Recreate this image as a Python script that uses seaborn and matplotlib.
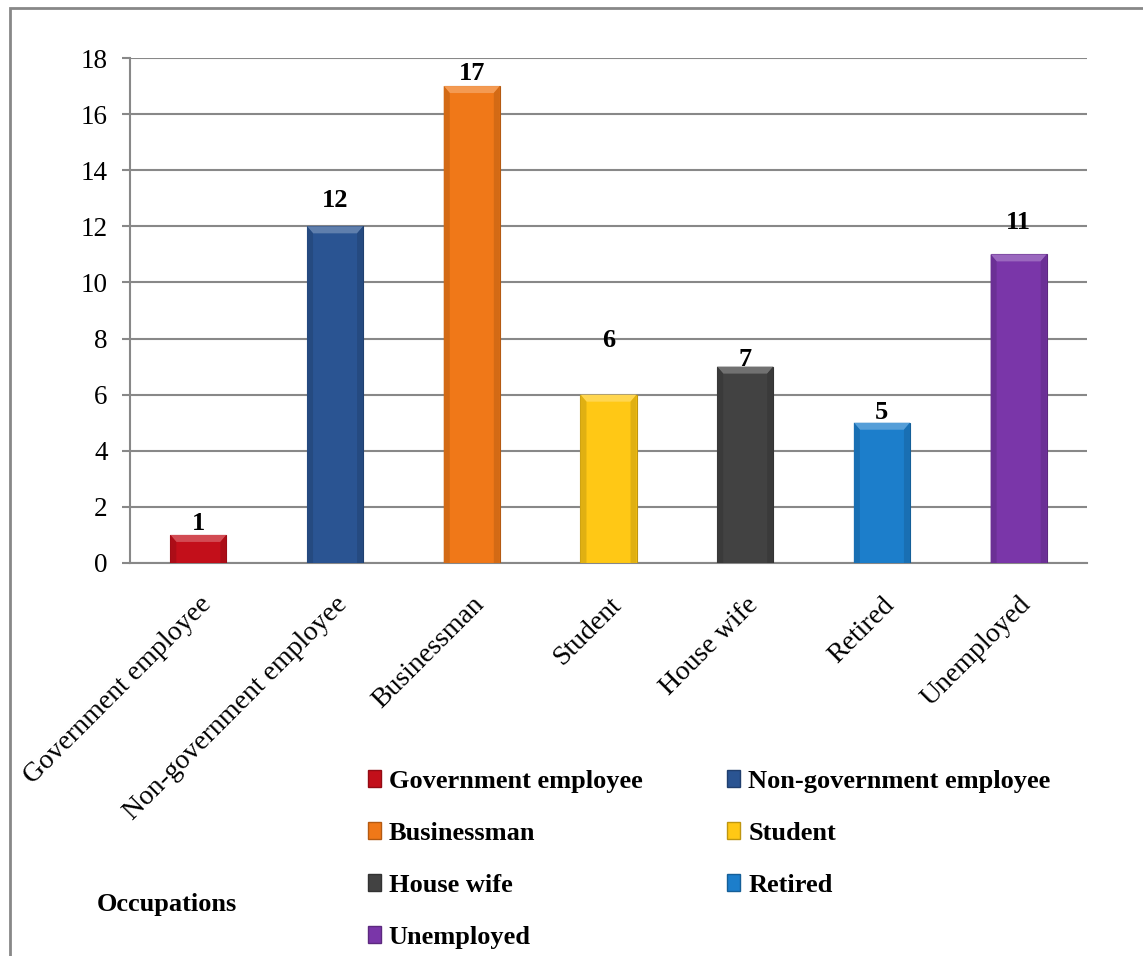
import matplotlib
matplotlib.use("Agg")
import matplotlib.pyplot as plt
import seaborn as sns
import pandas as pd
from matplotlib.patches import Rectangle, Patch, Polygon
from matplotlib.colors import to_rgb

categories = ["Government employee", "Non-government employee", "Businessman",
              "Student", "House wife", "Retired", "Unemployed"]
counts = [1, 12, 17, 6, 7, 5, 11]
colors = ["#C30F1A", "#2A5492", "#F07818", "#FFC815", "#424242", "#1C7ECB", "#7A36A9"]
label_offsets_px = [11, 26, 13, 54, 7, 10, 32]
y_ticks = [0, 2, 4, 6, 8, 10, 12, 14, 16, 18]
x_title = "Occupations"


def shade(c, f):
    r, g, b = to_rgb(c)
    if f >= 0:
        return (r + (1 - r) * f, g + (1 - g) * f, b + (1 - b) * f)
    return (r * (1 + f), g * (1 + f), b * (1 + f))


sns.set_theme(style="white")
plt.rcParams["font.family"] = ["Liberation Serif", "DejaVu Serif"]
plt.rcParams["text.color"] = "black"
plt.rcParams["xtick.color"] = "black"
plt.rcParams["ytick.color"] = "black"

df = pd.DataFrame({"Occupation": categories, "Count": counts})

W, H = 1143, 956
fig = plt.figure(figsize=(W / 100, H / 100), dpi=100)
ax = fig.add_axes([130 / W, 1 - 563 / H, (1087 - 130) / W, (563 - 58) / H])

sns.barplot(data=df, x="Occupation", y="Count", hue="Occupation",
            palette=colors, order=categories, hue_order=categories,
            width=0.41, dodge=False, legend=False, saturation=1, ax=ax, zorder=3)

ax.set_ylim(0, 18)
ax.set_xlim(-0.5, len(categories) - 0.5)

# bevel effect derived from each bar's geometry
px_y = 18 / 505.0
px_x = 1 / 136.7
for p, c in zip(ax.patches[:len(categories)], colors):
    p.set_edgecolor(shade(c, -0.25))
    p.set_linewidth(0.8)
    x0 = p.get_x()
    x1 = x0 + p.get_width()
    top = p.get_height()
    dy = min(7 * px_y, top / 2)
    dx = 6 * px_x
    ax.add_patch(Polygon([(x0, top), (x1, top), (x1 - dx, top - dy), (x0 + dx, top - dy)],
                         closed=True, facecolor=shade(c, 0.25), edgecolor="none", zorder=4))
    ax.add_patch(Polygon([(x0, top), (x0 + dx, top - dy), (x0 + dx, 0), (x0, 0)],
                         closed=True, facecolor=shade(c, -0.12), edgecolor="none", zorder=4))
    ax.add_patch(Polygon([(x1, top), (x1 - dx, top - dy), (x1 - dx, 0), (x1, 0)],
                         closed=True, facecolor=shade(c, -0.12), edgecolor="none", zorder=4))

ax.set_yticks(y_ticks)
ax.set_yticklabels([str(t) for t in y_ticks], fontsize=19.5)
ax.set_xticks(range(len(categories)))
ax.set_xticklabels(categories, rotation=45, ha="right", rotation_mode="anchor", fontsize=20)
ax.tick_params(axis="x", length=0, pad=21)
ax.tick_params(axis="y", length=6, width=1.5, color="#888888", left=True, direction="out", pad=10)
ax.set_xlabel("")
ax.set_ylabel("")
ax.yaxis.grid(True, color="#888888", linewidth=1.5, zorder=0)
ax.set_axisbelow(True)
for s in ["top", "right"]:
    ax.spines[s].set_visible(False)
for s in ["left", "bottom"]:
    ax.spines[s].set_color("#888888")
    ax.spines[s].set_linewidth(1.5)

for i, (v, off) in enumerate(zip(counts, label_offsets_px)):
    ax.annotate(str(v), xy=(i, v), xytext=(0, off * 0.72), textcoords="offset points",
                ha="center", va="center", fontsize=19, fontweight="bold", zorder=5)

handles = [Patch(facecolor=c, edgecolor=shade(c, -0.25)) for c in colors]
order = [0, 2, 4, 6, 1, 3, 5]
fig.legend([handles[i] for i in order], [categories[i] for i in order],
           ncol=2, loc="upper left", bbox_to_anchor=(344 / W, 1 - 746 / H),
           frameon=False, prop={"weight": "bold", "size": 19},
           handlelength=0.5, handleheight=0.6, handletextpad=0.3,
           columnspacing=3.2, labelspacing=1.1)

fig.text(97 / W, 1 - 905 / H, x_title, fontsize=19, fontweight="bold", ha="left", va="center")

fig.patches.append(Rectangle((10 / W, -0.05), 1.1, 1 - 8 / H + 0.05, transform=fig.transFigure,
                             fill=False, edgecolor="#888888", linewidth=2))

fig.savefig("out.png", dpi=100)
